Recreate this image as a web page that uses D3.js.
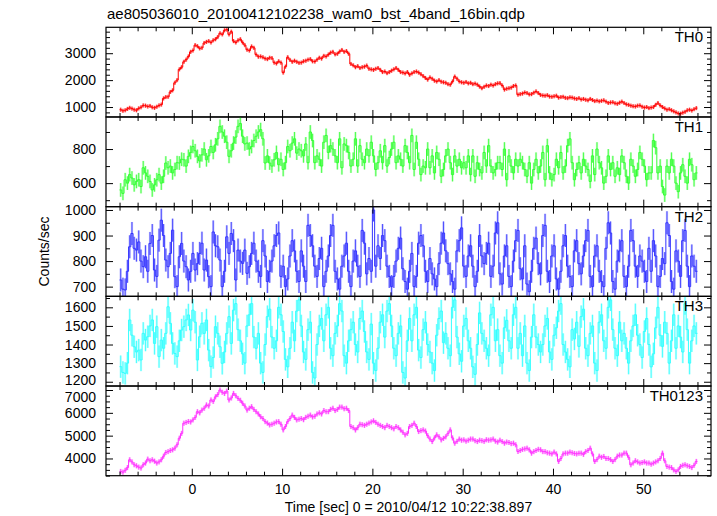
<!DOCTYPE html>
<html><head><meta charset="utf-8">
<script src="https://cdn.jsdelivr.net/npm/d3@7"></script>
<style>
html,body{margin:0;padding:0;background:#fff;}
text{font-family:"Liberation Sans",Arial,Helvetica,sans-serif;fill:#000;}
</style></head>
<body>
<svg id="chart" width="717" height="516"></svg>
<script>
// ---- data ----
const binStart = -8;      // time of first bin (sec)
const binWidth = 0.25;    // bin width (sec)
const title = "ae805036010_20100412102238_wam0_bst_4band_16bin.qdp";
const xLabel = "Time [sec] 0 = 2010/04/12 10:22:38.897";
const yLabel = "Counts/sec";
const seriesNames = ["TH0","TH1","TH2","TH3","TH0123"];

// one row = 2 s (8 bins)
const th0 = [
 900,860,880,930,970,940,900,880,
 950,990,1060,1050,1020,1040,990,970,
 1010,1060,1090,1320,1370,1380,1560,1620,
 1900,2000,2400,2480,2680,2760,2880,3050,
 3100,3300,3260,3180,3200,3380,3420,3450,
 3400,3480,3520,3600,3740,3700,3850,3880,
 3700,3800,3450,3400,3480,3520,3400,3300,
 3130,3100,3250,3200,2950,2870,2880,2850,
 2800,2780,2830,2820,2650,2620,2700,2650,
 2280,2500,2850,2750,2680,2720,2680,2640,
 2650,2700,2720,2760,2780,2700,2690,2760,
 2830,2800,2900,2880,2950,3020,3050,2960,
 2980,3060,3120,3050,3080,2980,2600,2550,
 2480,2520,2450,2480,2500,2540,2420,2400,
 2380,2420,2450,2380,2300,2320,2260,2300,
 2350,2400,2450,2380,2300,2280,2250,2300,
 2200,2250,2300,2320,2280,2220,2150,2080,
 2020,2100,2050,1980,1950,2000,1940,1920,
 1900,1850,1830,1950,2130,2050,1950,1920,
 1900,1930,1880,1900,1850,1870,1830,1760,
 1700,1750,1800,1780,1830,1800,1850,1880,
 1890,1800,1650,1680,1700,1720,1780,1800,
 1460,1480,1500,1540,1520,1470,1480,1530,
 1580,1520,1450,1430,1420,1440,1390,1380,
 1400,1420,1350,1370,1380,1340,1330,1360,
 1350,1320,1300,1330,1280,1300,1270,1250,
 1300,1260,1220,1240,1210,1230,1250,1200,
 1150,1170,1180,1140,1120,1160,1200,1150,
 1100,1080,1050,1030,1020,1050,1060,1010,
 980,1000,960,980,1000,1080,1150,1060,
 1000,950,900,920,880,840,800,760,
 750,790,820,880,900,870,920,960];
const th1 = [
 560,540,620,600,650,630,590,610,
 620,580,690,660,640,610,560,590,
 620,650,600,640,718,690,700,660,
 680,720,718,740,737,700,757,780,
 815,790,757,730,766,800,737,760,
 815,780,825,860,933,900,875,840,
 757,790,835,870,933,950,875,830,
 835,800,815,850,875,900,914,860,
 718,760,718,700,737,780,708,740,
 680,720,815,790,835,860,776,800,
 790,760,830,720,900,850,720,760,
 740,700,840,880,780,820,800,760,
 720,860,690,830,820,780,700,740,
 860,700,820,740,720,800,760,840,
 760,680,720,790,720,820,700,750,
 800,840,720,760,740,700,820,780,
 720,880,680,840,740,650,700,690,
 800,690,760,660,780,740,640,680,
 760,800,720,650,760,700,740,690,
 720,690,760,650,760,640,720,680,
 660,780,700,820,700,660,680,720,
 720,680,800,620,760,700,660,740,
 700,740,720,680,640,720,600,680,
 740,660,700,780,620,820,660,620,
 650,740,690,780,660,700,820,860,
 720,620,680,720,660,740,700,680,
 610,760,650,800,720,690,600,640,
 760,680,720,640,690,650,760,720,
 640,600,740,700,640,680,780,740,
 700,620,660,660,850,808,660,700,
 580,530,700,660,740,700,600,550,
 660,708,640,600,740,708,620,660];
const th2 = [
 726,690,687,760,856,908,850,843,
 875,800,778,817,760,869,900,765,
 740,882,960,900,804,778,830,921,
 739,700,817,869,800,778,726,760,
 830,765,790,830,870,765,804,739,
 700,914,860,856,804,700,760,895,
 830,908,880,726,843,800,791,843,
 752,778,830,870,800,760,740,880,
 820,720,760,800,860,900,910,740,
 780,700,730,820,880,840,760,720,
 840,780,720,940,900,860,780,740,
 810,850,700,760,820,900,940,760,
 730,690,780,820,870,760,700,800,
 840,780,740,920,870,750,810,760,
 1000,780,860,810,900,880,780,740,
 700,740,800,850,890,770,720,690,
 760,830,700,740,870,900,860,760,
 720,810,750,730,700,790,870,910,
 840,790,750,720,690,840,880,930,
 780,740,820,860,780,700,760,900,
 820,790,830,870,740,780,910,950,
 750,710,820,860,740,700,800,880,
 920,770,730,860,710,680,760,850,
 890,790,750,900,940,760,720,820,
 860,730,690,760,860,900,780,740,
 700,840,880,790,750,820,880,920,
 740,700,820,860,760,720,700,850,
 950,910,720,690,800,840,880,740,
 700,780,920,880,780,740,820,800,
 760,720,850,760,880,820,700,740,
 810,790,950,900,720,690,840,800,
 740,880,920,780,700,820,780,760];
const th3 = [
 1281,1250,1245,1300,1532,1450,1388,1360,
 1370,1317,1460,1424,1442,1500,1532,1406,
 1496,1335,1424,1380,1460,1603,1514,1406,
 1352,1335,1420,1478,1496,1532,1559,1478,
 1585,1520,1317,1442,1514,1460,1532,1370,
 1281,1330,1496,1460,1388,1299,1360,1460,
 1550,1406,1585,1620,1480,1420,1350,1300,
 1500,1560,1620,1440,1380,1460,1300,1250,
 1400,1550,1590,1440,1380,1420,1600,1560,
 1470,1320,1280,1380,1520,1420,1580,1640,
 1500,1360,1320,1480,1520,1250,1220,1400,
 1500,1540,1420,1560,1600,1380,1340,1460,
 1500,1620,1580,1340,1300,1420,1480,1520,
 1400,1360,1540,1580,1470,1360,1320,1510,
 1300,1260,1380,1520,1560,1440,1580,1620,
 1500,1380,1340,1460,1500,1250,1220,1420,
 1540,1420,1560,1600,1370,1330,1480,1520,
 1400,1360,1300,1260,1450,1540,1580,1410,
 1460,1380,1340,1600,1640,1440,1350,1310,
 1500,1540,1420,1380,1280,1240,1400,1570,
 1460,1420,1380,1340,1560,1600,1420,1480,
 1340,1300,1490,1530,1420,1380,1560,1600,
 1380,1460,1340,1500,1300,1260,1440,1560,
 1440,1400,1360,1400,1500,1540,1360,1320,
 1450,1490,1580,1620,1400,1360,1320,1280,
 1480,1430,1520,1390,1550,1590,1380,1340,
 1460,1500,1300,1260,1520,1560,1420,1380,
 1600,1640,1480,1380,1340,1520,1420,1460,
 1380,1300,1420,1500,1560,1450,1400,1330,
 1470,1540,1400,1280,1350,1490,1600,1450,
 1390,1520,1460,1300,1420,1560,1380,1500,
 1440,1360,1620,1480,1300,1420,1500,1460];
const th0123 = [
 3432,3400,3480,3600,3943,3850,3725,3680,
 3620,3580,3725,3800,3970,3900,3943,3880,
 3800,3850,3943,4100,4262,4300,4350,4380,
 4450,4600,4888,5100,5545,5580,5620,5600,
 5690,5800,6050,6000,6120,6200,6345,6300,
 6563,6500,6700,6800,7000,6900,6850,6950,
 6563,6650,6850,6750,6630,6550,6420,6300,
 6120,6200,6270,6150,6050,5950,5830,5750,
 5615,5550,5470,5500,5545,5600,5615,5500,
 5253,5400,5615,5750,5900,5800,5690,5720,
 5750,5700,5800,5850,5900,5820,5850,5950,
 6000,5950,6100,6050,6050,6150,6200,6100,
 6150,6250,6250,6180,6200,6100,5400,5350,
 5250,5350,5500,5480,5450,5500,5550,5600,
 5650,5580,5500,5450,5400,5350,5450,5400,
 5350,5300,5400,5350,5250,5150,5035,5100,
 5400,5450,5545,5400,5180,5220,5253,5200,
 5000,4850,4742,4900,5035,4950,4815,4880,
 4950,5100,5253,4900,4670,4750,4850,4800,
 4815,4760,4800,4850,4850,4780,4742,4800,
 4780,4750,4820,4800,4815,4850,4760,4720,
 4800,4740,4670,4720,4700,4650,4670,4600,
 4306,4350,4400,4420,4450,4380,4233,4300,
 4350,4400,4380,4300,4300,4250,4233,4200,
 4280,4200,3870,4000,4200,4233,4233,4280,
 4250,4220,4200,4230,4233,4180,4300,4350,
 4450,4200,3870,3950,4100,4050,4088,4000,
 4000,3950,3870,3950,4100,4150,4150,4233,
 4233,4050,3724,3800,3900,3850,3797,3820,
 3850,3800,3800,3750,3797,3850,3900,4000,
 4233,3900,3650,3620,3600,3500,3432,3500,
 3650,3700,3724,3680,3650,3600,3700,3870];
const seriesValues = [th0, th1, th2, th3, th0123];
const seriesErrors = [75, 40, 45, 60, 110];
const seriesColors = ["#ff0000","#33ff33","#3333ff","#33ffff","#ff33ff"];
const yDomains = [[630,3963],[462,988],[662,1013],[1177,1659],[3245,7175]];
const yMajorTicks = [[1000,2000,3000],[600,800],[700,800,900,1000],[1200,1300,1400,1500,1600],[4000,5000,6000,7000]];
const yMinorStep = [200,100,50,50,250];
const xDomain = [-9.5, 57.5];
const xMajorTicks = [0,10,20,30,40,50];
const xMinorStep = 2;

// ---- layout ----
const L = 106, R = 711, T = 27.3, B = 475.7;
const nP = seriesNames.length;
const pH = (B - T) / nP;
const svg = d3.select("#chart");
const x = d3.scaleLinear().domain(xDomain).range([L, R]);
const xMinor = d3.range(Math.ceil(xDomain[0]/xMinorStep)*xMinorStep, xDomain[1], xMinorStep).filter(v => !xMajorTicks.includes(v));
const fontCss = "'Liberation Sans',Arial,sans-serif";

seriesNames.forEach((name, p) => {
  const top = T + p*pH, bot = top + pH;
  const y = d3.scaleLinear().domain(yDomains[p]).range([bot, top]);
  const vals = seriesValues[p], err = seriesErrors[p], col = seriesColors[p];
  const g = svg.append("g");
  const clipId = "clip" + p;
  svg.append("clipPath").attr("id", clipId).append("rect")
     .attr("x", L).attr("y", top).attr("width", R-L).attr("height", pH);
  const dg = g.append("g").attr("clip-path", `url(#${clipId})`);
  const bins = vals.map((v,i) => ({t0: binStart + i*binWidth, t1: binStart + (i+1)*binWidth, v}));
  dg.selectAll("rect.err").data(bins).join("rect")
    .attr("x", d => x(d.t0)).attr("width", d => x(d.t1)-x(d.t0))
    .attr("y", d => y(d.v + err)).attr("height", d => y(d.v - err) - y(d.v + err))
    .attr("fill", col).attr("opacity", 0.3);
  dg.selectAll("line.err").data(bins).join("line")
    .attr("x1", d => x((d.t0+d.t1)/2)).attr("x2", d => x((d.t0+d.t1)/2))
    .attr("y1", d => y(d.v + err)).attr("y2", d => y(d.v - err))
    .attr("stroke", col).attr("stroke-width", 1).attr("opacity", 0.8);
  const pts = [];
  bins.forEach(d => { pts.push([d.t0, d.v]); pts.push([d.t1, d.v]); });
  dg.append("path").datum(pts)
    .attr("d", d3.line().x(d => x(d[0])).y(d => y(d[1])))
    .attr("fill","none").attr("stroke", col).attr("stroke-width", 1);

  const yMinor = d3.range(Math.ceil(yDomains[p][0]/yMinorStep[p])*yMinorStep[p], yDomains[p][1], yMinorStep[p])
                   .filter(v => !yMajorTicks[p].includes(v));
  const style = sel => { sel.select(".domain").remove(); sel.selectAll("line").attr("stroke","#000").attr("stroke-width",1); };
  // left
  g.append("g").attr("transform", `translate(${L},0)`)
   .call(d3.axisLeft(y).tickValues(yMajorTicks[p]).tickSizeInner(-7).tickSizeOuter(0).tickPadding(10).tickFormat(d3.format("d")))
   .call(style).call(s => s.selectAll("text").style("font-size","14px").style("font-family",fontCss)
     .attr("dy", d => (p === 3 && d === 1200) ? "0.2em" : (p === 4 && d === 7000) ? "0.85em" : "0.32em"));
  g.append("g").attr("transform", `translate(${L},0)`)
   .call(d3.axisLeft(y).tickValues(yMinor).tickSizeInner(-4).tickSizeOuter(0).tickFormat(""))
   .call(style);
  // right
  g.append("g").attr("transform", `translate(${R},0)`)
   .call(d3.axisRight(y).tickValues(yMajorTicks[p]).tickSizeInner(-7).tickSizeOuter(0).tickFormat(""))
   .call(style);
  g.append("g").attr("transform", `translate(${R},0)`)
   .call(d3.axisRight(y).tickValues(yMinor).tickSizeInner(-4).tickSizeOuter(0).tickFormat(""))
   .call(style);
  // top
  g.append("g").attr("transform", `translate(0,${top})`)
   .call(d3.axisTop(x).tickValues(xMajorTicks).tickSizeInner(-7).tickSizeOuter(0).tickFormat(""))
   .call(style);
  g.append("g").attr("transform", `translate(0,${top})`)
   .call(d3.axisTop(x).tickValues(xMinor).tickSizeInner(-4).tickSizeOuter(0).tickFormat(""))
   .call(style);
  // bottom
  const isLast = p === nP - 1;
  g.append("g").attr("transform", `translate(0,${bot})`)
   .call(d3.axisBottom(x).tickValues(xMajorTicks).tickSizeInner(-7).tickSizeOuter(0).tickPadding(8)
          .tickFormat(isLast ? d3.format("d") : ""))
   .call(style).call(s => s.selectAll("text").style("font-size","14px").style("font-family",fontCss));
  g.append("g").attr("transform", `translate(0,${bot})`)
   .call(d3.axisBottom(x).tickValues(xMinor).tickSizeInner(-4).tickSizeOuter(0).tickFormat(""))
   .call(style);
  // frame
  g.append("rect").attr("x", L).attr("y", top).attr("width", R-L).attr("height", pH)
   .attr("fill","none").attr("stroke","#000").attr("stroke-width",1.2);
  // panel label
  g.append("text").attr("x", 703).attr("y", top + 15).attr("text-anchor","end")
   .style("font-size","15px").text(name);
});

svg.append("text").attr("x", 107).attr("y", 19).style("font-size","15px").text(title);
svg.append("text").attr("x", (L+R)/2).attr("y", 512).attr("text-anchor","middle").style("font-size","14px").text(xLabel);
svg.append("text").attr("transform", `translate(49,${(T+B)/2}) rotate(-90)`).attr("text-anchor","middle")
   .style("font-size","14px").text(yLabel);
</script>
</body></html>
